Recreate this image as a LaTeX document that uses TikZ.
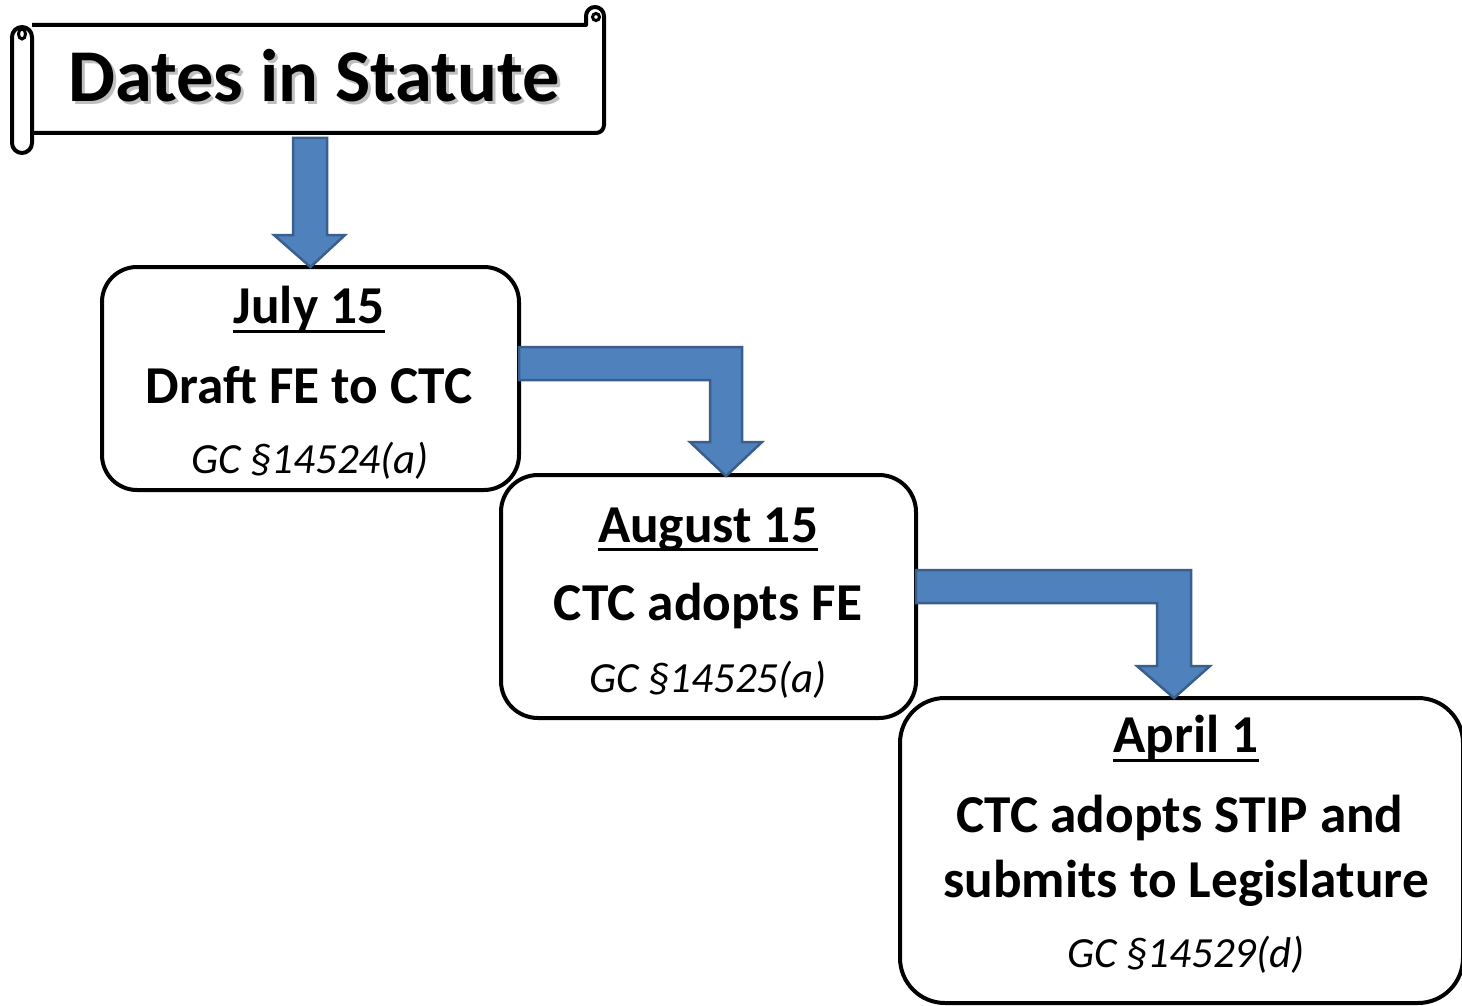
\documentclass[tikz,border=0pt]{standalone}
\usepackage{fontspec}
\setmainfont{Carlito}
\usetikzlibrary{calc}
\definecolor{arrowfill}{HTML}{4F81BD}
\definecolor{arrowline}{HTML}{3A5F8C}
\begin{document}
\begin{tikzpicture}[x=1pt,y=-1pt,
  datebox/.style={draw=black, line width=4pt, rounded corners=#1, inner sep=0pt, outer sep=0pt},
  boldtxt/.style={font=\fontsize{53.3}{60}\selectfont\bfseries, inner sep=0pt, anchor=base},
  reftxt/.style={font=\fontsize{43}{50}\selectfont\itshape, inner sep=0pt, anchor=base},
  titletxt/.style={font=\fontsize{74.5}{80}\selectfont\bfseries, inner sep=0pt, anchor=base},
  blockarrow/.style={fill=arrowfill, draw=arrowline, line width=2.5pt, line join=miter},
  uline/.style={line width=3pt},
  scrollline/.style={line width=4pt, line join=round, draw=black, fill=white}
]
\clip (0,0) rectangle (1462,1006);
\fill[white] (0,0) rectangle (1462,1006);

% title scroll
\draw[scrollline] (32,25) -- (586,25) -- (586,16) arc[start angle=180, end angle=360, radius=9]
  -- (604,125) arc[start angle=0, end angle=90, radius=8] -- (32,133);
\draw[line width=3pt] (596,17) circle[radius=3.5];
\draw[scrollline, rounded corners=10pt] (12,27) rectangle (32,153);
\draw[line width=3pt] (22,34) ellipse[x radius=3.5, y radius=5];
\node[titletxt, text=black!25] (titleshadow) at (317,105) {Dates in Statute};
\node[titletxt] (title) at (314,102) {Dates in Statute};

% boxes
\node[datebox=35pt, minimum width=417pt, minimum height=223pt] (b1) at (310.5,378.5) {};
\node[datebox=37pt, minimum width=415pt, minimum height=243pt] (b2) at (708.5,596.5) {};
\node[datebox=45pt, minimum width=563pt, minimum height=305pt] (b3) at (1181.5,850.5) {};

% box 1 text
\node[boldtxt] (d1) at (309,323) {July 15};
\draw[uline] ([yshift=-8pt]d1.base west) -- ([yshift=-8pt]d1.base east);
\node[boldtxt] (a1) at (309,403) {Draft FE to CTC};
\node[reftxt] (g1) at (310,473) {GC §14524(a)};

% box 2 text
\node[boldtxt] (d2) at (708,542) {August 15};
\draw[uline] ([yshift=-7pt]d2.base west) -- ([yshift=-7pt]d2.base east);
\node[boldtxt] (a2) at (708,620) {CTC adopts FE};
\node[reftxt] (g2) at (708,692) {GC §14525(a)};

% box 3 text
\node[boldtxt] (d3) at (1186,752) {April 1};
\draw[uline] ([yshift=-8pt]d3.base west) -- ([yshift=-8pt]d3.base east);
\node[boldtxt] (a3) at (1180,832) {CTC adopts STIP and};
\node[boldtxt] (a3b) at (1186,897) {submits to Legislature};
\node[reftxt] (g3) at (1186,967) {GC §14529(d)};

% block arrows
\draw[blockarrow] (293,138) -- (327,138) -- (327,235) -- (345,235) -- (b1.north) -- (274,235) -- (293,235) -- cycle;
\draw[blockarrow] (b1.east |- 0,347) -- (742,347) -- (742,442) -- (762,442) -- (726,476)
  -- (690,442) -- (710,442) -- (710,380) -- (b1.east |- 0,380) -- cycle;
\draw[blockarrow] (b2.east |- 0,570) -- (1191,570) -- (1191,666) -- (1210,666) -- (1174,698)
  -- (1137,666) -- (1157,666) -- (1157,603) -- (b2.east |- 0,603) -- cycle;
\end{tikzpicture}
\end{document}
